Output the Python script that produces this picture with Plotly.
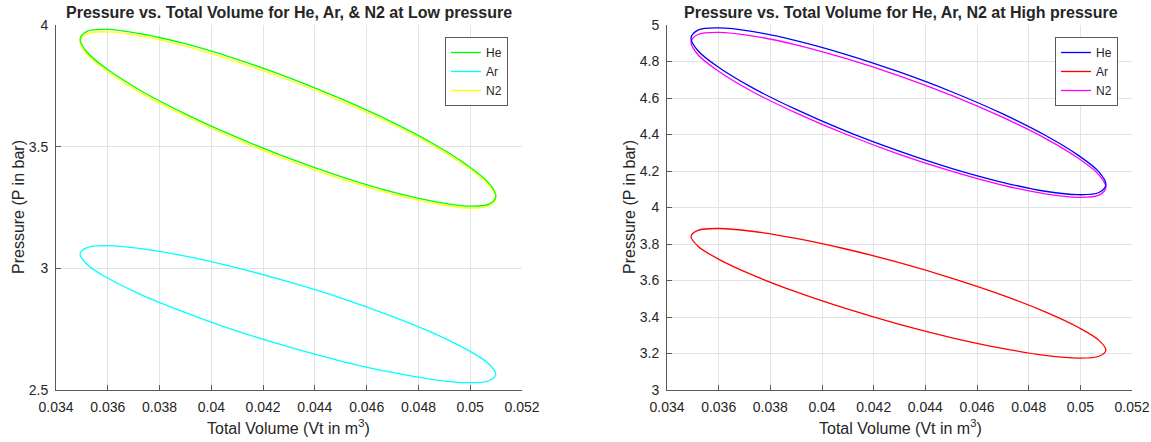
import plotly.graph_objects as go

# Total volume samples (m^3), shared by all gases
vol = [0.05099, 0.05072, 0.04991, 0.04864, 0.04698, 0.04504, 0.04296, 0.04088,
       0.03895, 0.03728, 0.03601, 0.03520, 0.03493, 0.03520, 0.03601, 0.03728,
       0.03895, 0.04088, 0.04296, 0.04504, 0.04698, 0.04864, 0.04991, 0.05072, 0.05099]

# Low pressure (bar)
low_he = [3.296, 3.264, 3.256, 3.274, 3.314, 3.376, 3.454, 3.543, 3.637, 3.730, 3.816, 3.888,
          3.942, 3.974, 3.982, 3.964, 3.924, 3.863, 3.785, 3.695, 3.601, 3.508, 3.422, 3.350, 3.296]
low_ar = [2.564, 2.538, 2.530, 2.542, 2.572, 2.618, 2.678, 2.746, 2.820, 2.892, 2.959, 3.016,
          3.059, 3.085, 3.093, 3.081, 3.051, 3.005, 2.945, 2.877, 2.803, 2.731, 2.664, 2.607, 2.564]
low_n2 = [3.288, 3.256, 3.248, 3.266, 3.306, 3.367, 3.445, 3.534, 3.628, 3.721, 3.807, 3.879,
          3.932, 3.964, 3.972, 3.955, 3.914, 3.853, 3.775, 3.686, 3.592, 3.499, 3.414, 3.342, 3.288]

# High pressure (bar)
high_he = [4.125, 4.082, 4.070, 4.089, 4.138, 4.213, 4.310, 4.421, 4.540, 4.658, 4.767, 4.859,
           4.929, 4.972, 4.984, 4.965, 4.916, 4.841, 4.744, 4.633, 4.514, 4.396, 4.287, 4.195, 4.125]
high_ar = [3.218, 3.185, 3.175, 3.190, 3.228, 3.286, 3.361, 3.448, 3.540, 3.632, 3.716, 3.788,
           3.842, 3.875, 3.885, 3.870, 3.832, 3.774, 3.699, 3.612, 3.520, 3.428, 3.344, 3.272, 3.218]
high_n2 = [4.110, 4.068, 4.056, 4.075, 4.123, 4.198, 4.293, 4.404, 4.521, 4.637, 4.745, 4.837,
           4.906, 4.948, 4.960, 4.941, 4.893, 4.818, 4.723, 4.613, 4.495, 4.379, 4.271, 4.179, 4.110]

x_ticks = [0.034, 0.036, 0.038, 0.04, 0.042, 0.044, 0.046, 0.048, 0.05, 0.052]
x_ticktext = ["0.034", "0.036", "0.038", "0.04", "0.042", "0.044", "0.046", "0.048", "0.05", "0.052"]
y1_ticks = [2.5, 3, 3.5, 4]
y1_ticktext = ["2.5", "3", "3.5", "4"]
y2_ticks = [3, 3.2, 3.4, 3.6, 3.8, 4, 4.2, 4.4, 4.6, 4.8, 5]
y2_ticktext = ["3", "3.2", "3.4", "3.6", "3.8", "4", "4.2", "4.4", "4.6", "4.8", "5"]

FONT = "Liberation Sans, Arial, sans-serif"
W, H = 1151, 442
TXT = "#262626"
AX = "#5a5a5a"

fig = go.Figure()
lw = 1.3
# draw order: N2, Ar, He (He on top); legend order via legendrank
fig.add_trace(go.Scatter(x=vol, y=low_n2, mode="lines", name="N2", legendrank=3, line=dict(color="#ffff00", width=lw, shape="spline"), xaxis="x", yaxis="y", legend="legend"))
fig.add_trace(go.Scatter(x=vol, y=low_ar, mode="lines", name="Ar", legendrank=2, line=dict(color="#00ffff", width=lw, shape="spline"), xaxis="x", yaxis="y", legend="legend"))
fig.add_trace(go.Scatter(x=vol, y=low_he, mode="lines", name="He", legendrank=1, line=dict(color="#00ff00", width=lw, shape="spline"), xaxis="x", yaxis="y", legend="legend"))
fig.add_trace(go.Scatter(x=vol, y=high_n2, mode="lines", name="N2", legendrank=3, line=dict(color="#ff00ff", width=lw, shape="spline"), xaxis="x2", yaxis="y2", legend="legend2"))
fig.add_trace(go.Scatter(x=vol, y=high_ar, mode="lines", name="Ar", legendrank=2, line=dict(color="#ff0000", width=lw, shape="spline"), xaxis="x2", yaxis="y2", legend="legend2"))
fig.add_trace(go.Scatter(x=vol, y=high_he, mode="lines", name="He", legendrank=1, line=dict(color="#0000ff", width=lw, shape="spline"), xaxis="x2", yaxis="y2", legend="legend2"))

def common():
    return dict(showgrid=True, gridcolor="#e3e3e3", gridwidth=1, zeroline=False,
                showline=True, linecolor=AX, linewidth=1, ticks="inside", ticklen=5,
                tickcolor=AX, tickfont=dict(family=FONT, size=14, color=TXT),
                automargin=False, fixedrange=True)

def xax(domain, anchor):
    d = common()
    d.update(domain=domain, range=[0.034, 0.052], tickvals=x_ticks, ticktext=x_ticktext,
             anchor=anchor, ticklabelstandoff=4)
    return d

def yax(domain, rng, tv, tt, anchor):
    d = common()
    d.update(domain=domain, range=rng, tickvals=tv, ticktext=tt, anchor=anchor,
             ticklabelstandoff=4)
    return d

ydom = [(H - 390) / H, (H - 25) / H]
legend_common = dict(yanchor="top", xanchor="right", bgcolor="white", bordercolor=AX, borderwidth=1,
                     font=dict(family=FONT, size=12, color=TXT), tracegroupgap=0,
                     traceorder="normal")

def ann(text, x, y, size, angle=0):
    return dict(text=text, x=x / W, y=(H - y) / H, xref="paper", yref="paper",
                xanchor="center", yanchor="middle", showarrow=False, textangle=angle,
                font=dict(family=FONT, size=size, color=TXT if angle or "Total" in text else "#000000"))

fig.update_layout(
    width=W, height=H,
    margin=dict(l=0, r=0, t=0, b=0, autoexpand=False),
    paper_bgcolor="white", plot_bgcolor="white",
    xaxis=xax([56 / W, 522 / W], "y"),
    yaxis=yax(ydom, [2.5, 4], y1_ticks, y1_ticktext, "x"),
    xaxis2=xax([667 / W, 1132 / W], "y2"),
    yaxis2=yax(ydom, [3, 5], y2_ticks, y2_ticktext, "x2"),
    legend=dict(x=508 / W, y=(H - 37) / H, **legend_common),
    legend2=dict(x=1118 / W, y=(H - 37) / H, **legend_common),
    showlegend=True,
    annotations=[
        ann("<b>Pressure vs. Total Volume for He, Ar, &amp; N2 at Low pressure</b>", 289, 12, 16),
        ann("<b>Pressure vs. Total Volume for He, Ar, N2 at High pressure</b>", 901, 12, 16),
        ann("Total Volume (Vt in m<sup>3</sup>)", 289, 427, 16),
        ann("Total Volume (Vt in m<sup>3</sup>)", 900, 427, 16),
        ann("Pressure (P in bar)", 18, 207, 16, -90),
        ann("Pressure (P in bar)", 629, 207, 16, -90),
    ],
)
fig.write_html("out.html")
